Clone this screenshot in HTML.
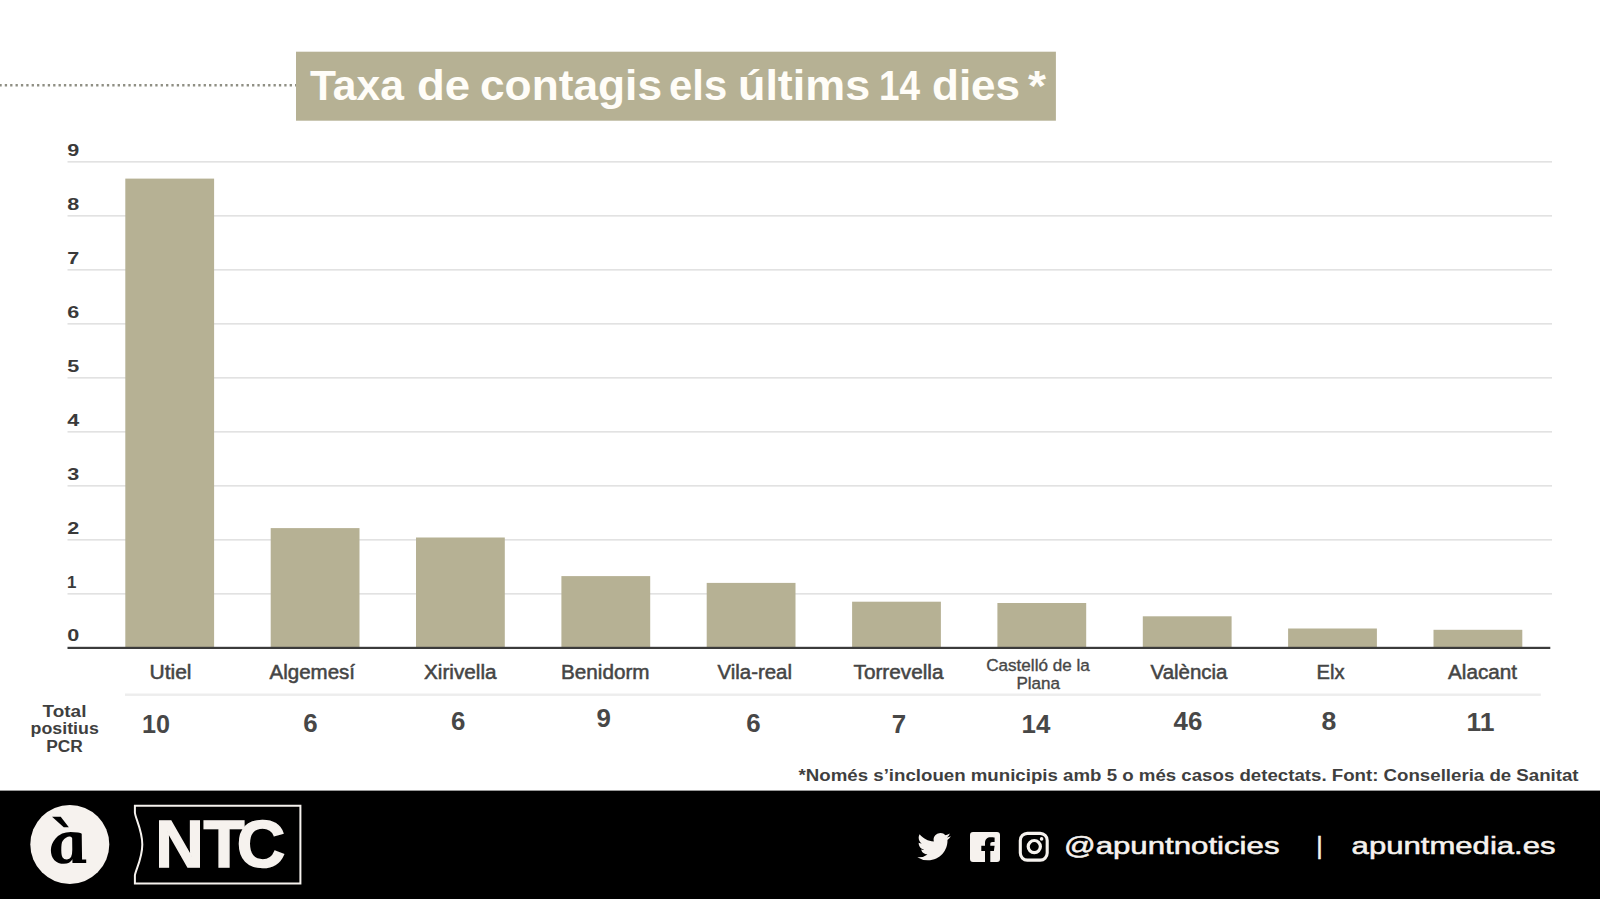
<!DOCTYPE html>
<html lang="ca">
<head>
<meta charset="utf-8">
<title>Taxa de contagis els últims 14 dies</title>
<style>
  html, body { margin: 0; padding: 0; background: #ffffff; }
  body { width: 1600px; height: 899px; overflow: hidden; position: relative;
         font-family: "Liberation Sans", sans-serif; }
  svg.layer { position: absolute; left: 0; top: 0; width: 1600px; height: 899px; overflow: visible; }
  .mb { font-family: "Liberation Sans", sans-serif; font-weight: 700; }
  .rg { font-family: "Liberation Sans", sans-serif; font-weight: 400; }
</style>
</head>
<body>

<svg class="layer" viewBox="0 0 1600 899">
  <!-- footer band + title box -->
  <rect x="0" y="790.6" width="1600" height="108.4" fill="#000000"/>
  <rect x="296" y="51.7" width="759.9" height="69" fill="#b6b194"/>

  <!-- grid lines 9..1 -->
  <g stroke="#d9d9d9" stroke-width="1.3">
    <line x1="67.5" y1="161.8" x2="1552" y2="161.8"/>
    <line x1="67.5" y1="215.8" x2="1552" y2="215.8"/>
    <line x1="67.5" y1="269.8" x2="1552" y2="269.8"/>
    <line x1="67.5" y1="323.8" x2="1552" y2="323.8"/>
    <line x1="67.5" y1="377.8" x2="1552" y2="377.8"/>
    <line x1="67.5" y1="431.8" x2="1552" y2="431.8"/>
    <line x1="67.5" y1="485.8" x2="1552" y2="485.8"/>
    <line x1="67.5" y1="539.8" x2="1552" y2="539.8"/>
    <line x1="67.5" y1="593.8" x2="1552" y2="593.8"/>
  </g>

  <!-- bars -->
  <g fill="#b6b194">
    <rect x="125.3" y="178.6" width="88.8" height="469.4"/>
    <rect x="270.7" y="528.1" width="88.8" height="119.9"/>
    <rect x="416.0" y="537.5" width="88.8" height="110.5"/>
    <rect x="561.4" y="576.1" width="88.8" height="71.9"/>
    <rect x="706.7" y="582.9" width="88.8" height="65.1"/>
    <rect x="852.1" y="601.7" width="88.8" height="46.3"/>
    <rect x="997.4" y="603.0" width="88.8" height="45.0"/>
    <rect x="1142.8" y="616.3" width="88.8" height="31.7"/>
    <rect x="1288.1" y="628.5" width="88.8" height="19.5"/>
    <rect x="1433.5" y="629.8" width="88.8" height="18.2"/>
  </g>

  <!-- x axis + table separator -->
  <rect x="67.5" y="646.8" width="1482.8" height="2.2" fill="#3b3b3b"/>
  <rect x="125" y="693.5" width="1415.8" height="2.4" fill="#ededed"/>

  <!-- dotted rule -->
  <line x1="-0.6" y1="85.2" x2="296" y2="85.2" stroke="#8f8f84" stroke-width="2.4" stroke-dasharray="2.3 3.075"/>

  <!-- title -->
  <text class="mb" y="100" font-size="41.8" fill="#fffdf8" id="title"><tspan x="310.00" textLength="93.99" lengthAdjust="spacingAndGlyphs">Taxa</tspan> <tspan x="417.00" textLength="53.17" lengthAdjust="spacingAndGlyphs">de</tspan> <tspan x="480.00" textLength="182.05" lengthAdjust="spacingAndGlyphs">contagis</tspan> <tspan x="669.00" textLength="58.17" lengthAdjust="spacingAndGlyphs">els</tspan> <tspan x="738.00" textLength="132.13" lengthAdjust="spacingAndGlyphs">últims</tspan> <tspan x="879.00" textLength="41.08" lengthAdjust="spacingAndGlyphs">14</tspan> <tspan x="932.00" textLength="88.10" lengthAdjust="spacingAndGlyphs">dies</tspan> <tspan x="1028.00" textLength="17.99" lengthAdjust="spacingAndGlyphs">*</tspan></text>

  <!-- y axis labels -->
  <g class="mb" font-size="17.2" fill="#3a3a3a">
    <text x="67.3" y="155.6" textLength="12" lengthAdjust="spacingAndGlyphs">9</text>
    <text x="67.3" y="209.6" textLength="12" lengthAdjust="spacingAndGlyphs">8</text>
    <text x="67.3" y="263.6" textLength="12" lengthAdjust="spacingAndGlyphs">7</text>
    <text x="67.3" y="317.7" textLength="12" lengthAdjust="spacingAndGlyphs">6</text>
    <text x="67.3" y="371.7" textLength="12" lengthAdjust="spacingAndGlyphs">5</text>
    <text x="67.3" y="425.7" textLength="12" lengthAdjust="spacingAndGlyphs">4</text>
    <text x="67.3" y="479.7" textLength="12" lengthAdjust="spacingAndGlyphs">3</text>
    <text x="67.3" y="533.8" textLength="12" lengthAdjust="spacingAndGlyphs">2</text>
    <text x="66.9" y="587.8" textLength="9.4" lengthAdjust="spacingAndGlyphs">1</text>
    <text x="67.3" y="640.6" textLength="12" lengthAdjust="spacingAndGlyphs">0</text>
  </g>

  <!-- x axis labels -->
  <g class="rg" font-size="19.4" fill="#454545" stroke="#454545" stroke-width="0.5">
    <text x="149.5" y="678.5" textLength="42" lengthAdjust="spacingAndGlyphs">Utiel</text>
    <text x="269.5" y="678.5" textLength="85.5" lengthAdjust="spacingAndGlyphs">Algemesí</text>
    <text x="424" y="678.5" textLength="72.5" lengthAdjust="spacingAndGlyphs">Xirivella</text>
    <text x="561" y="678.5" textLength="88.5" lengthAdjust="spacingAndGlyphs">Benidorm</text>
    <text x="717.5" y="678.5" textLength="74.5" lengthAdjust="spacingAndGlyphs">Vila-real</text>
    <text x="853.5" y="678.5" textLength="90" lengthAdjust="spacingAndGlyphs">Torrevella</text>
    <text x="1150.5" y="678.5" textLength="77" lengthAdjust="spacingAndGlyphs">València</text>
    <text x="1316.5" y="678.5" textLength="28" lengthAdjust="spacingAndGlyphs">Elx</text>
    <text x="1448" y="678.5" textLength="69" lengthAdjust="spacingAndGlyphs">Alacant</text>
  </g>
  <g class="rg" font-size="16.8" fill="#474747" stroke="#474747" stroke-width="0.35">
    <text x="986.2" y="670.5" textLength="103.6" lengthAdjust="spacingAndGlyphs">Castelló de la</text>
    <text x="1016.4" y="688.6" textLength="43.6" lengthAdjust="spacingAndGlyphs">Plana</text>
  </g>

  <!-- totals -->
  <g class="mb" font-size="25.4" fill="#474747">
    <text x="142" y="732.6" textLength="28" lengthAdjust="spacingAndGlyphs">10</text>
    <text x="303.2" y="732.2" textLength="14.4" lengthAdjust="spacingAndGlyphs">6</text>
    <text x="451" y="730.4" textLength="14.4" lengthAdjust="spacingAndGlyphs">6</text>
    <text x="596.4" y="727.2" textLength="14.4" lengthAdjust="spacingAndGlyphs">9</text>
    <text x="746.2" y="731.8" textLength="14.4" lengthAdjust="spacingAndGlyphs">6</text>
    <text x="891.8" y="732.8" textLength="14.4" lengthAdjust="spacingAndGlyphs">7</text>
    <text x="1021.6" y="732.8" textLength="28.8" lengthAdjust="spacingAndGlyphs">14</text>
    <text x="1173.6" y="729.6" textLength="28.8" lengthAdjust="spacingAndGlyphs">46</text>
    <text x="1321.6" y="729.6" textLength="14.8" lengthAdjust="spacingAndGlyphs">8</text>
    <text x="1466.4" y="730.8" textLength="28" lengthAdjust="spacingAndGlyphs">11</text>
  </g>

  <!-- row header -->
  <g class="mb" font-size="16" fill="#3f3f3f">
    <text x="42.6" y="716.8" textLength="43.8" lengthAdjust="spacingAndGlyphs">Total</text>
    <text x="30.6" y="734.2" textLength="68.2" lengthAdjust="spacingAndGlyphs">positius</text>
    <text x="46.2" y="751.8" textLength="36.6" lengthAdjust="spacingAndGlyphs">PCR</text>
  </g>

  <!-- footnote -->
  <text class="mb" x="798.6" y="781" font-size="17.4" fill="#3f3f3f" textLength="780" lengthAdjust="spacingAndGlyphs">*Només s’inclouen municipis amb 5 o més casos detectats. Font: Conselleria de Sanitat</text>

  <!-- footer: à logo -->
  <circle cx="69.8" cy="844.4" r="39.5" fill="#f6f2ee"/>
  <text x="0" y="0" font-size="58" fill="#000000" font-family="'DejaVu Serif', 'Liberation Serif', serif" font-style="italic" font-weight="700" transform="translate(51.6,863.2) scale(1.1,1) skewX(11.5)">à</text>

  <!-- footer: NTC -->
  <path d="M134.9,805.8 H300.4 V883.6 H134.9 V875.5 C135.2,870.5 142.3,859 142.3,844.4 C142.3,830 135.2,818 134.9,812.5 Z" fill="none" stroke="#f6f2ee" stroke-width="2"/>
  <text class="mb" x="155.3" y="867.4" font-size="67.2" fill="#f6f2ee" stroke="#f6f2ee" stroke-width="1.5" style="font-kerning:none">N<tspan dx="-0.4">T</tspan><tspan dx="-7.8">C</tspan></text>

  <!-- twitter -->
  <g transform="translate(917.3,829.9) scale(1.4)" fill="#f6f2ee">
    <path d="M23.953 4.57a10 10 0 01-2.825.775 4.958 4.958 0 002.163-2.723c-.951.555-2.005.959-3.127 1.184a4.92 4.92 0 00-8.384 4.482C7.69 8.095 4.067 6.13 1.64 3.162a4.822 4.822 0 00-.666 2.475c0 1.71.87 3.213 2.188 4.096a4.904 4.904 0 01-2.228-.616v.06a4.923 4.923 0 003.946 4.827 4.996 4.996 0 01-2.212.085 4.936 4.936 0 004.604 3.417 9.867 9.867 0 01-6.102 2.105c-.39 0-.779-.023-1.17-.067a13.995 13.995 0 007.557 2.209c9.053 0 13.998-7.496 13.998-13.985 0-.21 0-.42-.015-.63A9.935 9.935 0 0024 4.59z"/>
  </g>
  <!-- facebook -->
  <path fill="#f6f2ee" fill-rule="evenodd" d="M973,831.9 h24 a3,3 0 0 1 3,3 v24 a3,3 0 0 1 -3,3 h-24 a3,3 0 0 1 -3,-3 v-24 a3,3 0 0 1 3,-3 z M985,861.9 V851 H981.3 V845.8 H985 V843 C985,839.2 987.3,837.2 990.8,837.2 C992.4,837.2 993.8,837.4 994.6,837.5 V841.9 H992.6 C990.8,841.9 990.3,842.8 990.3,844.1 V845.8 H994.6 L993.9,851 H990.3 V861.9 Z"/>
  <!-- instagram -->
  <g fill="none" stroke="#f6f2ee">
    <rect x="1020.3" y="833.4" width="26.9" height="26.7" rx="7" ry="7" stroke-width="3.1"/>
    <circle cx="1034.3" cy="846.6" r="6.1" stroke-width="3.2"/>
  </g>
  <circle cx="1041.6" cy="838.9" r="1.8" fill="#f6f2ee"/>

  <!-- footer text -->
  <g class="rg" font-size="24.8" fill="#f6f2ee" stroke="#f6f2ee" stroke-width="0.55">
    <text x="1064" y="854.4" textLength="215.5" lengthAdjust="spacingAndGlyphs">@apuntnoticies</text>
    <text x="1351.6" y="854.4" textLength="204" lengthAdjust="spacingAndGlyphs">apuntmedia.es</text>
  </g>
  <text class="rg" x="1316.3" y="854.4" font-size="24.8" fill="#f6f2ee" stroke="#f6f2ee" stroke-width="0.5">|</text>
</svg>

</body>
</html>
